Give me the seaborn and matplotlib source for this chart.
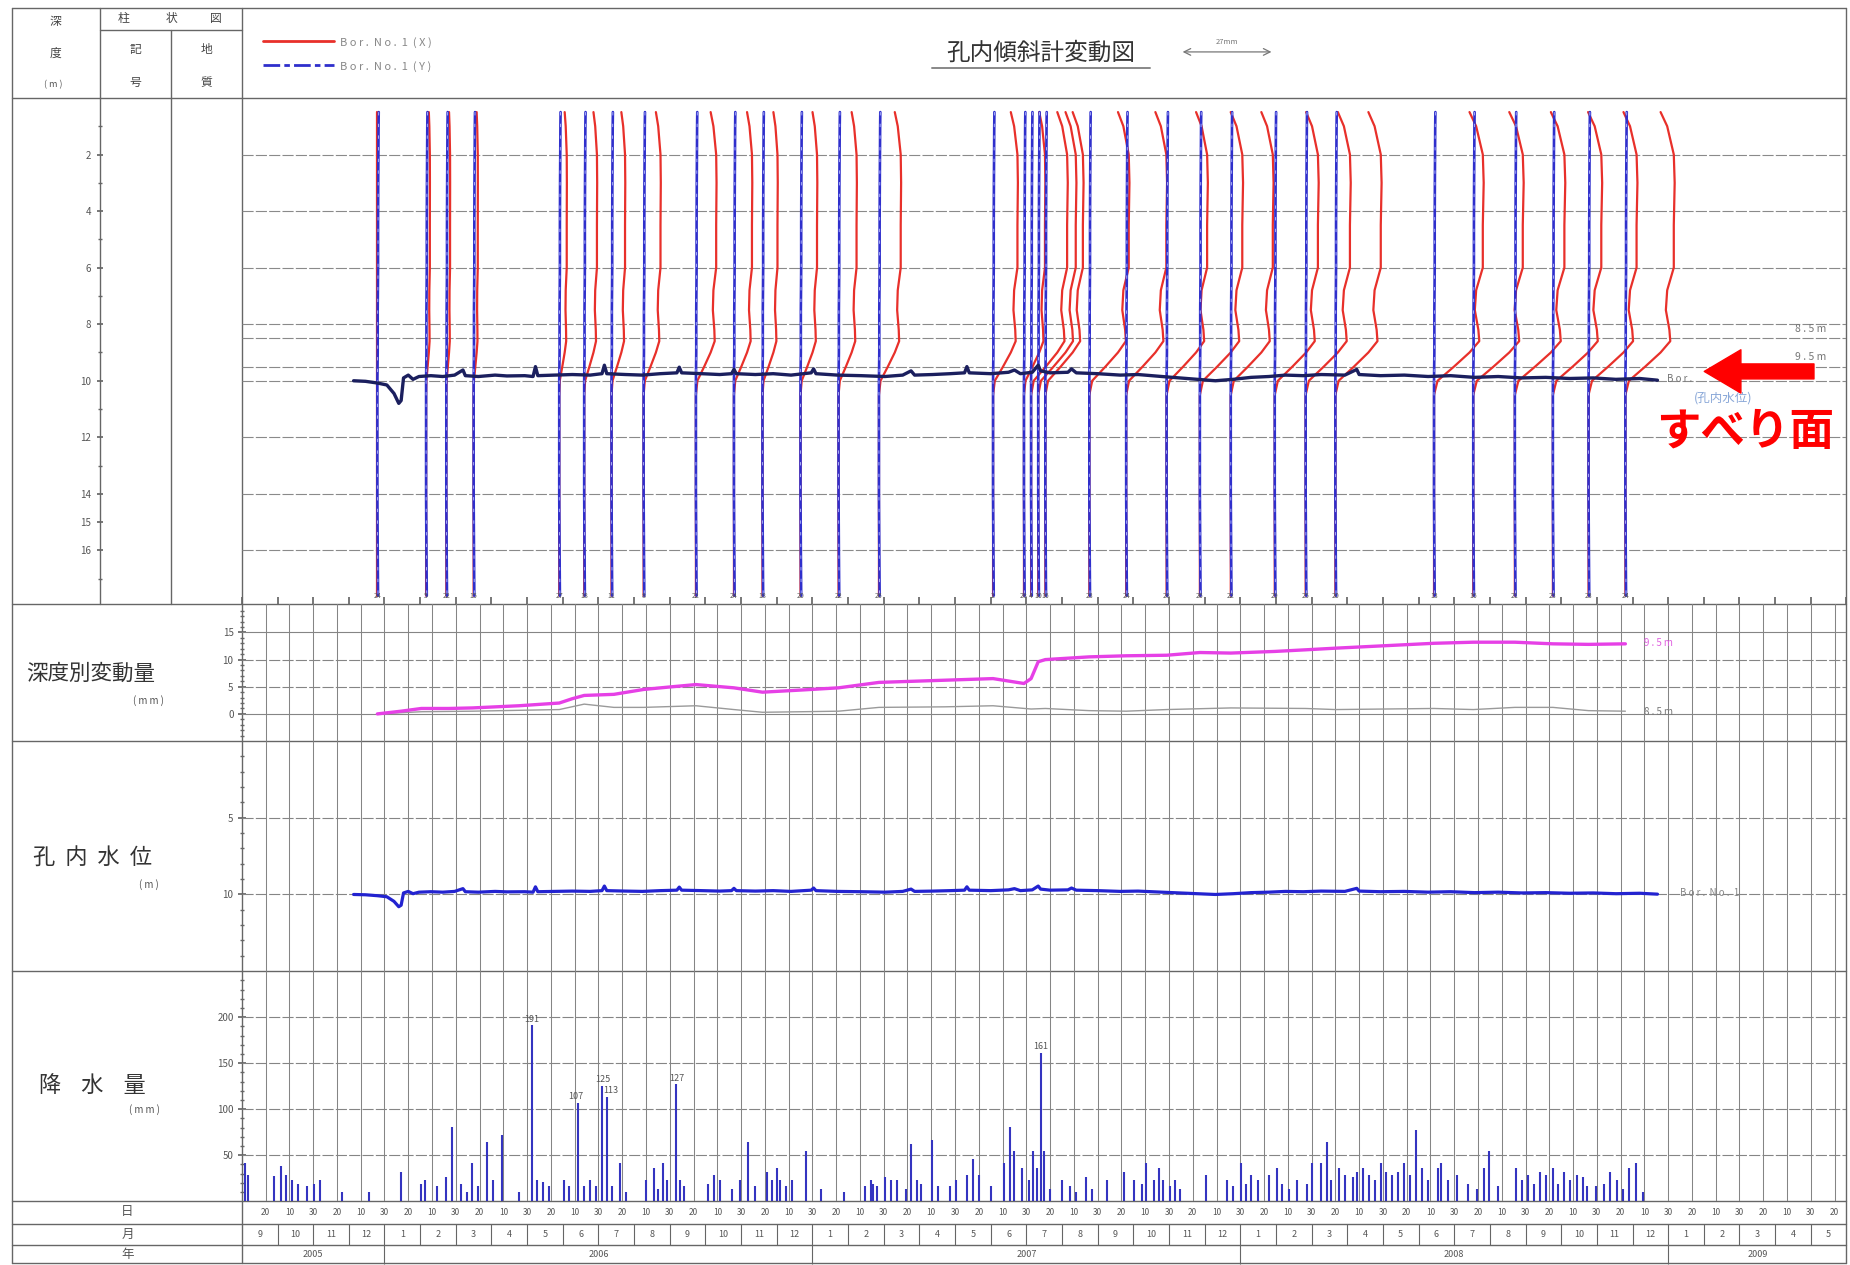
import numpy as np
import pandas as pd
import matplotlib
matplotlib.use("Agg")
import matplotlib.pyplot as plt
import seaborn as sns

# ---------------- data (time axis: chart days since 2005-09-01, 30 days per month) ----------------
prof_day = [114, 155, 172, 195, 267, 288, 311, 338, 382, 414, 438, 470, 502, 536, 632, 658, 664,
            670, 676, 713, 744, 778, 806, 832, 869, 895, 920, 1003, 1036, 1071, 1103, 1133, 1164]
prof_label = ['24', '5', '22', '15', '27', '18', '11', '8', '22', '24', '18', '20', '22', '26', '2',
              '28', '4', '10', '16', '23', '24', '28', '26', '22', '29', '25', '20', '13', '16',
              '21', '23', '23', '24']
prof_x_mm = [0, 1.0, 1.0, 1.1, 2.0, 3.4, 3.6, 4.5, 5.4, 4.8, 4.0, 4.4, 4.8, 5.8, 6.5, 5.6, 9.6,
             10.0, 10.0, 10.5, 10.7, 10.8, 11.3, 11.2, 11.5, 11.8, 12.1, 13.0, 13.2, 13.2, 12.9,
             12.8, 12.9]
prof_depth = [0.5, 1.0, 2.0, 3.0, 4.5, 6.0, 6.8, 7.5, 8.2, 8.6, 9.0, 9.5, 10.0, 10.5, 12.0, 14.0, 16.0, 17.6]
x_shape = [0.80, 0.95, 1.10, 1.12, 1.10, 1.10, 0.95, 0.92, 1.00, 1.02, 0.80, 0.45, 0.08, 0.0, 0.0, 0.0, 0.0, 0.0]
y_shape_mm = [0.4, 0.35, 0.3, 0.25, 0.2, 0.2, 0.15, 0.1, 0.1, 0.1, 0.1, 0.05, 0.0, 0.0, 0.0, 0.0, 0.1, 0.2]

water_day = [94, 104, 114, 122, 128, 132, 134, 136, 140, 144, 149, 159, 169, 179, 186, 188, 199, 213,
             223, 238, 245, 247, 249, 263, 278, 293, 303, 305, 307, 323, 337, 352, 366, 368, 370, 387,
             402, 412, 414, 416, 432, 447, 462, 479, 481, 483, 501, 521, 541, 556, 563, 566, 581, 596,
             608, 610, 612, 630, 645, 650, 655, 665, 670, 672, 680, 695, 698, 702, 720, 739, 754, 774,
             789, 804, 819, 834, 849, 864, 878, 893, 908, 928, 938, 940, 958, 978, 998, 1017, 1037,
             1057, 1077, 1097, 1117, 1137, 1156, 1176, 1191]
water_depth = [10.00, 10.02, 10.08, 10.15, 10.45, 10.80, 10.70, 9.90, 9.80, 9.95, 9.85, 9.82, 9.85,
               9.80, 9.62, 9.82, 9.85, 9.80, 9.83, 9.82, 9.85, 9.50, 9.82, 9.80, 9.78, 9.80, 9.75,
               9.45, 9.75, 9.78, 9.80, 9.75, 9.72, 9.52, 9.72, 9.75, 9.78, 9.75, 9.60, 9.75, 9.78,
               9.75, 9.80, 9.72, 9.58, 9.75, 9.80, 9.82, 9.85, 9.80, 9.65, 9.80, 9.78, 9.75, 9.72,
               9.50, 9.72, 9.75, 9.70, 9.62, 9.75, 9.70, 9.45, 9.65, 9.72, 9.70, 9.58, 9.72, 9.75,
               9.80, 9.78, 9.85, 9.90, 9.95, 10.00, 9.95, 9.88, 9.85, 9.80, 9.82, 9.78, 9.80, 9.60,
               9.78, 9.82, 9.80, 9.85, 9.82, 9.88, 9.85, 9.90, 9.88, 9.92, 9.90, 9.95, 9.92, 9.98]

def95_day = [114, 134, 151, 174, 194, 233, 267, 278, 288, 313, 338, 362, 382, 414, 438, 471, 502, 536,
             591, 632, 658, 664, 670, 676, 713, 744, 778, 806, 832, 869, 895, 920, 1003, 1036, 1071,
             1103, 1133, 1164]
def95_mm = [0, 0.5, 1.0, 1.0, 1.1, 1.5, 2.0, 2.8, 3.4, 3.6, 4.5, 5.0, 5.4, 4.8, 4.0, 4.4, 4.8, 5.8,
            6.2, 6.5, 5.6, 6.5, 9.6, 10.0, 10.5, 10.7, 10.8, 11.3, 11.2, 11.5, 11.8, 12.1, 13.0, 13.2,
            13.2, 12.9, 12.8, 12.9]
def85_day = [114, 151, 194, 267, 288, 313, 338, 382, 414, 438, 471, 502, 536, 591, 632, 664, 676, 713,
             744, 778, 832, 895, 920, 1003, 1036, 1071, 1103, 1133, 1164]
def85_mm = [0, 0.4, 0.5, 0.8, 1.8, 1.2, 1.2, 1.5, 0.8, 0.3, 0.4, 0.5, 1.2, 1.3, 1.5, 0.9, 1.0, 0.6,
            0.5, 0.8, 1.1, 1.0, 0.8, 1.0, 0.8, 1.2, 1.2, 0.6, 0.5]

rain_day = [3, 5, 27, 33, 37, 42, 47, 55, 61, 66, 84, 107, 134, 151, 154, 164, 172, 177, 184, 189, 194,
            199, 206, 211, 219, 233, 244, 248, 253, 258, 271, 275, 283, 288, 293, 298, 303, 307, 311,
            318, 323, 340, 347, 350, 354, 358, 365, 369, 372, 392, 397, 402, 412, 419, 426, 432, 442,
            446, 450, 453, 458, 463, 475, 487, 507, 524, 529, 531, 534, 541, 546, 551, 559, 563, 568,
            571, 581, 586, 596, 601, 610, 615, 620, 630, 641, 646, 650, 656, 662, 666, 669, 672, 675,
            680, 690, 697, 702, 710, 715, 728, 742, 751, 757, 761, 767, 772, 775, 781, 785, 789, 811,
            829, 834, 841, 845, 849, 855, 864, 871, 875, 881, 888, 896, 900, 908, 913, 916, 923, 928,
            935, 938, 943, 948, 953, 958, 963, 968, 973, 978, 983, 988, 993, 998, 1006, 1009, 1015,
            1022, 1032, 1039, 1045, 1049, 1057, 1072, 1077, 1082, 1087, 1092, 1097, 1103, 1107, 1112,
            1117, 1123, 1128, 1132, 1139, 1146, 1151, 1157, 1162, 1167, 1173, 1179]
rain_mm = [42, 29, 27, 38, 29, 23, 19, 17, 19, 23, 10, 10, 32, 19, 23, 17, 26, 81, 19, 10, 42, 17, 64,
           23, 72, 10, 191, 23, 21, 17, 23, 17, 107, 17, 23, 17, 125, 113, 17, 42, 10, 23, 36, 13, 42,
           23, 127, 23, 17, 19, 29, 23, 13, 23, 64, 17, 32, 23, 36, 23, 17, 23, 55, 13, 10, 17, 23,
           19, 17, 26, 23, 23, 13, 62, 23, 19, 67, 17, 17, 23, 29, 46, 29, 17, 42, 81, 55, 36, 23,
           55, 36, 161, 55, 13, 23, 17, 10, 26, 13, 23, 32, 23, 19, 42, 23, 36, 23, 17, 23, 13, 29,
           23, 17, 42, 19, 29, 23, 29, 36, 19, 13, 23, 19, 42, 42, 64, 23, 36, 29, 26, 32, 36, 29, 23,
           42, 32, 29, 32, 42, 29, 77, 36, 23, 36, 42, 23, 29, 19, 13, 36, 55, 17, 36, 23, 29, 19, 32,
           29, 36, 19, 32, 23, 29, 26, 17, 17, 19, 32, 23, 13, 36, 42, 10]
rain_peak_day = [244, 281, 304, 310, 366, 672]
rain_peak_mm = [191, 107, 125, 113, 127, 161]
rain_peak_label = ['191', '107', '125', '113', '127', '161']

month_labels = ['9', '10', '11', '12'] + [str(m) for m in range(1, 13)] * 3 + ['1', '2', '3', '4', '5']
year_labels = ['2005', '2006', '2007', '2008', '2009']
year_bounds = [0, 120, 480, 840, 1200, 1350]
grid_days = list(range(20, 1350, 20))
day_labels = [str(d % 30 if d % 30 else 30) for d in grid_days]

# ---------------- style ----------------
sns.set_theme(style="white")
plt.rcParams['font.family'] = ['Noto Sans CJK JP', 'DejaVu Sans']
GRAY = '#666666'
TXT = '#555555'
RED = '#e8302a'
BLUE = '#2f2fcc'
MM = 2.87  # chart days per mm of displacement

W, H = 1568, 1072
def rect(x0, y0, x1, y1):
    return [x0 / W, 1 - y1 / H, (x1 - x0) / W, (y1 - y0) / H]

fig = plt.figure(figsize=(18.5, 12.65), dpi=100)
fig.patch.set_facecolor('white')
bg = fig.add_axes([0, 0, 1, 1])
bg.set_xlim(0, W); bg.set_ylim(H, 0); bg.axis('off')

# frame lines
for y in [7, 83, 512, 628, 823, 1018, 1037, 1055, 1070]:
    bg.plot([10, 1565], [y, y], color=GRAY, lw=1)
for x in [10, 205, 1565]:
    bg.plot([x, x], [7, 1070], color=GRAY, lw=1)
bg.plot([85, 85], [7, 512], color=GRAY, lw=1)
bg.plot([145, 145], [25, 512], color=GRAY, lw=1)
bg.plot([85, 205], [25, 25], color=GRAY, lw=1)

# header texts
hk = dict(fontsize=8.5, color='#444444', ha='center', va='center')
bg.text(47, 18, '深', **hk); bg.text(47, 45, '度', **hk); bg.text(45, 72, '( m )', fontsize=6.5, color=TXT, ha='center', va='center')
bg.text(105, 16, '柱', **hk); bg.text(145, 16, '状', **hk); bg.text(183, 16, '図', **hk)
bg.text(115, 42, '記', **hk); bg.text(115, 70, '号', **hk)
bg.text(175, 42, '地', **hk); bg.text(175, 70, '質', **hk)

# legend
bg.plot([223, 283], [35, 35], color=RED, lw=2.0)
bg.plot([223, 283], [55, 55], color=BLUE, lw=2.0, linestyle=(0, (6, 1.5, 2, 1.5)))
bg.text(288, 36, 'B o r .  N o .  1  ( X )', fontsize=8, color='#888888', va='center')
bg.text(288, 56, 'B o r .  N o .  1  ( Y )', fontsize=8, color='#888888', va='center')

# title
bg.text(882, 45, '孔内傾斜計変動図', fontsize=17, color='#333333', ha='center', va='center')
bg.plot([790, 975], [58, 58], color='#888888', lw=1.4)
bg.annotate('', xy=(1000, 44), xytext=(1080, 44),
            arrowprops=dict(arrowstyle='<->', color='#777777', lw=0.9))
bg.text(1040, 39, '27mm', fontsize=5.5, color='#777777', ha='center', va='bottom')

# left panel labels
bg.text(77, 571, '深度別変動量', fontsize=15.5, color='#333333', ha='center', va='center')
bg.text(126, 594, '( m m )', fontsize=7, color=TXT, ha='center', va='center')
bg.text(78, 727, '孔  内  水  位', fontsize=16, color='#333333', ha='center', va='center')
bg.text(126, 750, '( m )', fontsize=7, color=TXT, ha='center', va='center')
bg.text(78, 920, '降    水    量', fontsize=16, color='#333333', ha='center', va='center')
bg.text(122, 940, '( m m )', fontsize=7, color=TXT, ha='center', va='center')
bg.text(108, 1027, '日', fontsize=9, color=TXT, ha='center', va='center')
bg.text(108, 1046, '月', fontsize=9, color=TXT, ha='center', va='center')
bg.text(108, 1063, '年', fontsize=9, color=TXT, ha='center', va='center')

def style_panel(ax):
    ax.set_facecolor('none')
    for s in ax.spines.values():
        s.set_visible(False)
    ax.set_xlim(0, 1350)
    ax.set_xlabel(''); ax.set_ylabel('')

# ---------------- inclinometer panel ----------------
ax_inc = fig.add_axes(rect(205, 83, 1565, 512))
rows = []
for i, (b, d) in enumerate(zip(prof_day, prof_x_mm)):
    for z, f, ys in zip(prof_depth, x_shape, y_shape_mm):
        rows.append(dict(prof=i, depth=z, xX=b + f * d * MM, xY=b + ys * MM))
pdf = pd.DataFrame(rows)
for z in [2, 4, 6, 8, 8.5, 9.5, 10, 12, 14, 16]:
    ax_inc.axhline(z, color='#8a8a8a', lw=0.8, linestyle=(0, (10, 2)), zorder=1)
sns.lineplot(data=pdf, x='xX', y='depth', units='prof', estimator=None, sort=False, orient='y',
             color=RED, lw=1.6, ax=ax_inc, zorder=3)
sns.lineplot(data=pdf, x='xY', y='depth', units='prof', estimator=None, sort=False, orient='y',
             color=BLUE, lw=1.9, ax=ax_inc, zorder=4)
sns.lineplot(data=pdf, x='xY', y='depth', units='prof', estimator=None, sort=False, orient='y',
             color='#b8c0ff', lw=0.6, linestyle=(0, (4, 10)), ax=ax_inc, zorder=4.5)
sns.lineplot(x=water_day, y=water_depth, sort=False, estimator=None, color='#1b1f5e', lw=2.4,
             ax=ax_inc, zorder=5)
for b, lab in zip(prof_day, prof_label):
    ax_inc.text(b, 17.62, lab, fontsize=5, color=TXT, ha='center', va='center', zorder=6)
style_panel(ax_inc)
ax_inc.set_ylim(17.9, 0)
ax_inc.set_xticks(range(0, 1351, 30))
ax_inc.set_yticks([])
ax_inc.tick_params(axis='x', direction='in', length=5, color=GRAY, labelbottom=False, bottom=True)
ax_inc.text(1320, 8.35, '8 . 5 m', fontsize=7.5, color='#777777', ha='center', va='bottom')
ax_inc.text(1320, 9.35, '9 . 5 m', fontsize=7.5, color='#777777', ha='center', va='bottom')
ax_inc.text(1199, 9.95, 'B o r .', fontsize=7, color='#777777', ha='left', va='center')
ax_inc.text(1246, 10.6, '(孔内水位)', fontsize=9, color='#8aa8d8', ha='center', va='center')
ax_inc.annotate('', xy=(1228, 9.67), xytext=(1325, 9.67),
                arrowprops=dict(arrowstyle='simple,head_length=1.1,head_width=1.3,tail_width=0.45',
                                color='#ff0000', mutation_scale=24), zorder=8)
ax_inc.text(1265, 11.8, 'すべり面', fontsize=32, fontweight='bold', color='#ff0000',
            ha='center', va='center', zorder=8, clip_on=False)

ax_depth = fig.add_axes(rect(85, 83, 145, 512))
ax_depth.set_facecolor('none')
for s in ax_depth.spines.values():
    s.set_visible(False)
ax_depth.set_ylim(17.9, 0); ax_depth.set_xlim(0, 1)
ax_depth.set_xticks([])
ax_depth.set_yticks([2, 4, 6, 8, 10, 12, 14, 15, 16])
ax_depth.set_yticks(range(1, 18), minor=True)
ax_depth.tick_params(axis='y', which='both', direction='inout', length=5, color=GRAY,
                     labelsize=7, labelcolor=TXT, left=True, pad=4)
ax_depth.tick_params(axis='y', which='minor', length=3)

# ---------------- deformation panel ----------------
ax_def = fig.add_axes(rect(205, 512, 1565, 628))
for d in grid_days:
    ax_def.axvline(d, color='#858585', lw=0.75, zorder=1)
for v, ls in [(0, '-'), (5, (0, (10, 2))), (10, (0, (10, 2))), (15, '-')]:
    ax_def.axhline(v, color='#858585', lw=0.8, linestyle=ls, zorder=1)
sns.lineplot(x=def85_day, y=def85_mm, sort=False, estimator=None, color='#9a9a9a', lw=1.0, ax=ax_def, zorder=3)
sns.lineplot(x=def95_day, y=def95_mm, sort=False, estimator=None, color='#e640e6', lw=2.4, ax=ax_def, zorder=4)
ax_def.text(1180, 13.0, '9 . 5 m', fontsize=7, color='#e060e0', ha='left', va='center')
ax_def.text(1180, 0.3, '8 . 5 m', fontsize=7, color='#777777', ha='left', va='center')
style_panel(ax_def)
ax_def.set_ylim(-5, 20.2)
ax_def.set_yticks([0, 5, 10, 15]); ax_def.set_yticks(range(-4, 20), minor=True)
ax_def.set_xticks([])

# ---------------- water level panel ----------------
ax_wat = fig.add_axes(rect(205, 628, 1565, 823))
for d in grid_days:
    ax_wat.axvline(d, color='#858585', lw=0.75, zorder=1)
for v in [5, 10]:
    ax_wat.axhline(v, color='#858585', lw=0.8, linestyle=(0, (10, 2)), zorder=1)
sns.lineplot(x=water_day, y=water_depth, sort=False, estimator=None, color='#2323d0', lw=2.3, ax=ax_wat, zorder=3)
ax_wat.text(1210, 9.9, 'B o r .  N o .  1', fontsize=7, color='#888888', ha='left', va='center')
style_panel(ax_wat)
ax_wat.set_ylim(15, 0)
ax_wat.set_yticks([5, 10]); ax_wat.set_yticks(range(1, 15), minor=True)
ax_wat.set_xticks([])

# ---------------- rainfall panel ----------------
ax_rain = fig.add_axes(rect(205, 823, 1565, 1018))
for d in grid_days:
    ax_rain.axvline(d, color='#858585', lw=0.75, zorder=1)
for v in [50, 100, 150, 200]:
    ax_rain.axhline(v, color='#858585', lw=0.8, linestyle=(0, (10, 2)), zorder=1)
ax_rain.vlines(rain_day, 0, rain_mm, color='#3434c0', lw=1.5, zorder=3)
for d, v, lab in zip(rain_peak_day, rain_peak_mm, rain_peak_label):
    ax_rain.text(d, v + 2, lab, fontsize=6.5, color=TXT, ha='center', va='bottom', zorder=4)
style_panel(ax_rain)
ax_rain.set_ylim(0, 250)
ax_rain.set_yticks([50, 100, 150, 200]); ax_rain.set_yticks(range(10, 250, 10), minor=True)
ax_rain.set_xticks([])

for ax in (ax_def, ax_wat, ax_rain):
    ax.tick_params(axis='y', which='both', direction='inout', color=GRAY, labelsize=7,
                   labelcolor=TXT, left=True, pad=3)
    ax.tick_params(axis='y', which='major', length=6)
    ax.tick_params(axis='y', which='minor', length=3)

# ---------------- date table ----------------
ax_date = fig.add_axes(rect(205, 1018, 1565, 1072))
ax_date.set_xlim(0, 1350); ax_date.set_ylim(1072, 1018); ax_date.axis('off')
for d, lab in zip(grid_days, day_labels):
    ax_date.text(d, 1027.5, lab, fontsize=6, color=TXT, ha='center', va='center')
for k, lab in enumerate(month_labels):
    ax_date.text(k * 30 + 15, 1046, lab, fontsize=6.5, color=TXT, ha='center', va='center')
ax_date.vlines(range(30, 1350, 30), 1037, 1055, color=GRAY, lw=0.8)
ax_date.vlines(year_bounds[1:-1], 1055, 1071, color=GRAY, lw=0.8)
for k, lab in enumerate(year_labels):
    ax_date.text((year_bounds[k] + year_bounds[k + 1]) / 2, 1063, lab, fontsize=6.5, color=TXT,
                 ha='center', va='center')

fig.savefig('out.png', dpi=100, facecolor='white')
